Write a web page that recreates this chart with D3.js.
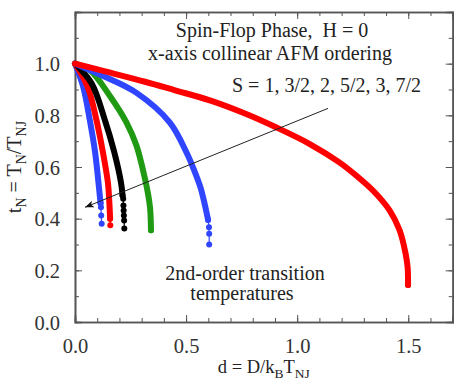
<!DOCTYPE html>
<html>
<head>
<meta charset="utf-8">
<script src="https://cdn.jsdelivr.net/npm/d3@7"></script>
<style>
  body { margin: 0; background: #fff; }
  .axis path, .axis line { stroke: #555; }
  .axis .domain { stroke-width: 1.6; }
</style>
</head>
<body>
<div id="chart"></div>
<script>
// Transition curves t_N(d): [d, t]
// the dense part is drawn as a thick line, the tail as separate dots
const s72Main = [[0, 1], [0.037, 0.91], [0.067, 0.78], [0.09, 0.66], [0.105, 0.545], [0.115, 0.46]];
const s72Tail = [[0.115, 0.46], [0.117, 0.444], [0.118, 0.412], [0.12, 0.38]];
const s3Main = [[0, 1], [0.057, 0.91], [0.097, 0.78], [0.125, 0.66], [0.148, 0.54], [0.155, 0.457], [0.158, 0.40]];
const s3Tail = [[0.158, 0.40], [0.159, 0.375]];
const s52Main = [[0, 1], [0.075, 0.923], [0.135, 0.78], [0.176, 0.66], [0.207, 0.54], [0.214, 0.49]];
const s52Tail = [[0.214, 0.49], [0.217, 0.477], [0.218, 0.451], [0.219, 0.432], [0.22, 0.412], [0.221, 0.393], [0.222, 0.362]];
const s2Main = [[0, 1], [0.067, 0.975], [0.157, 0.875], [0.232, 0.772], [0.277, 0.682], [0.315, 0.554], [0.33, 0.49], [0.338, 0.44], [0.341, 0.39], [0.342, 0.355]];
const s2Tail = [[0.342, 0.355]];
const s32Main = [[0, 1], [0.127, 0.952], [0.277, 0.887], [0.427, 0.772], [0.502, 0.656], [0.535, 0.59], [0.565, 0.52], [0.588, 0.44], [0.599, 0.395]];
const s32Tail = [[0.599, 0.395], [0.603, 0.367], [0.604, 0.342], [0.604, 0.30]];
const s1Main = [[0, 1], [0.127, 0.972], [0.315, 0.93], [0.45, 0.897], [0.607, 0.858], [0.757, 0.81], [0.907, 0.753], [1.057, 0.689], [1.19, 0.618], [1.267, 0.566], [1.341, 0.509], [1.416, 0.432], [1.461, 0.355], [1.488, 0.265], [1.497, 0.213], [1.499, 0.143]];
const s1Tail = [[1.499, 0.143]];

const seriesNames = ["7/2", "3", "5/2", "2", "3/2", "1"];
const seriesMain = [s72Main, s3Main, s52Main, s2Main, s32Main, s1Main];
const seriesTail = [s72Tail, s3Tail, s52Tail, s2Tail, s32Tail, s1Tail];
const seriesColors = ["#2f45ff", "#ff0000", "#000000", "#1f9a12", "#2f45ff", "#ff0000"];

// ticks
const xMajor = [0, 0.5, 1.0, 1.5];
const xMinor = [0, 0.1, 0.2, 0.3, 0.4, 0.5, 0.6, 0.7, 0.8, 0.9, 1.0, 1.1, 1.2, 1.3, 1.4, 1.5, 1.6, 1.7];
const yMajor = [0, 0.2, 0.4, 0.6, 0.8, 1.0];
const yMinor = [0, 0.1, 0.2, 0.3, 0.4, 0.5, 0.6, 0.7, 0.8, 0.9, 1.0, 1.1, 1.2];

// arrow across the curves, in data units
const arrowFrom = [1.139, 0.827];
const arrowTo = [0.045, 0.444];

const serif = 'Liberation Serif';
const width = 457, height = 392;
const margin = { top: 12, right: 4.3, bottom: 70, left: 75 };
const w = width - margin.left - margin.right;
const h = height - margin.top - margin.bottom;

const svg = d3.select('#chart').append('svg')
  .attr('width', width)
  .attr('height', height)
  .attr('font-family', serif);

const chart = svg.append('g')
  .attr('transform', `translate(${margin.left},${margin.top})`);

const x = d3.scaleLinear().domain([0, 1.7]).range([0, w]);
const y = d3.scaleLinear().domain([0, 1.2]).range([h, 0]);

// minor ticks on all four sides, pointing inward
chart.append('g').attr('class', 'axis').attr('transform', `translate(0,${h})`)
  .call(d3.axisBottom(x).tickValues(xMinor).tickSize(-4).tickFormat(''));
chart.append('g').attr('class', 'axis')
  .call(d3.axisTop(x).tickValues(xMinor).tickSize(-4).tickFormat(''));
chart.append('g').attr('class', 'axis')
  .call(d3.axisLeft(y).tickValues(yMinor).tickSize(-4).tickFormat(''));
chart.append('g').attr('class', 'axis').attr('transform', `translate(${w},0)`)
  .call(d3.axisRight(y).tickValues(yMinor).tickSize(-4).tickFormat(''));

// major ticks with labels
const xAxisG = chart.append('g').attr('class', 'axis').attr('transform', `translate(0,${h})`)
  .call(d3.axisBottom(x).tickValues(xMajor).tickSize(-7).tickPadding(13).tickFormat(d3.format('.1f')));
const yAxisG = chart.append('g').attr('class', 'axis')
  .call(d3.axisLeft(y).tickValues(yMajor).tickSize(-7).tickPadding(15).tickFormat(d3.format('.1f')));
chart.append('g').attr('class', 'axis')
  .call(d3.axisTop(x).tickValues(xMajor).tickSize(-7).tickFormat(''));
chart.append('g').attr('class', 'axis').attr('transform', `translate(${w},0)`)
  .call(d3.axisRight(y).tickValues(yMajor).tickSize(-7).tickFormat(''));

chart.selectAll('.axis').attr('font-family', serif);
chart.selectAll('.axis text')
  .attr('font-family', serif)
  .attr('font-size', 20.5)
  .attr('fill', '#333');
xAxisG.selectAll('text').attr('dy', '0.9em');
yAxisG.selectAll('text').attr('dy', '0.35em');

// curves
const line = d3.line().x(d => x(d[0])).y(d => y(d[1])).curve(d3.curveCatmullRom.alpha(0.5));

seriesMain.forEach((pts, i) => {
  chart.append('path')
    .attr('d', line(pts))
    .attr('fill', 'none')
    .attr('stroke', seriesColors[i])
    .attr('stroke-width', 6)
    .attr('stroke-linecap', 'round')
    .attr('stroke-linejoin', 'round');
});

seriesTail.forEach((pts, i) => {
  chart.append('path')
    .attr('d', d3.line().x(d => x(d[0])).y(d => y(d[1]))(pts))
    .attr('fill', 'none')
    .attr('stroke', seriesColors[i])
    .attr('stroke-width', 1.2);
  chart.selectAll(null)
    .data(pts)
    .join('circle')
    .attr('cx', d => x(d[0]))
    .attr('cy', d => y(d[1]))
    .attr('r', 3)
    .attr('fill', seriesColors[i]);
});

// arrow
svg.append('defs').append('marker')
  .attr('id', 'head')
  .attr('viewBox', '-10 -5 12 10')
  .attr('refX', 0).attr('refY', 0)
  .attr('markerWidth', 12).attr('markerHeight', 10)
  .attr('markerUnits', 'userSpaceOnUse')
  .attr('orient', 'auto')
  .append('path')
  .attr('d', 'M-9,-3.5 L0,0 L-9,3.5 L-6.5,0 Z')
  .attr('fill', '#111');

chart.append('line')
  .attr('x1', x(arrowFrom[0])).attr('y1', y(arrowFrom[1]))
  .attr('x2', x(arrowTo[0])).attr('y2', y(arrowTo[1]))
  .attr('stroke', '#222')
  .attr('stroke-width', 1)
  .attr('marker-end', 'url(#head)');

// annotations
const note = (txt, px, py, anchor) => svg.append('text')
  .attr('x', px).attr('y', py)
  .attr('text-anchor', anchor)
  .attr('font-family', serif)
  .attr('font-size', 20)
  .attr('fill', '#222')
  .text(txt);

note('Spin-Flop Phase,\u00a0 H = 0', 272, 37, 'middle');
note('x-axis collinear AFM ordering', 270, 60, 'middle');
note('S = 1, 3/2, 2, 5/2, 3, 7/2', 232, 92, 'start');
note('2nd-order transition', 245, 280, 'middle');
note('temperatures', 242, 300, 'middle');

// axis titles
const xt = svg.append('text')
  .attr('x', margin.left + w / 2).attr('y', 373)
  .attr('text-anchor', 'middle')
  .attr('font-family', serif)
  .attr('fill', '#222')
  .attr('font-size', 18.5);
xt.append('tspan').text('d = D/k');
xt.append('tspan').attr('dy', 5).attr('font-size', 13.5).text('B');
xt.append('tspan').attr('dy', -5).text('T');
xt.append('tspan').attr('dy', 5).attr('font-size', 13.5).text('NJ');

const yt = svg.append('text')
  .attr('transform', `translate(21,${margin.top + h / 2}) rotate(-90)`)
  .attr('text-anchor', 'middle')
  .attr('font-family', serif)
  .attr('fill', '#222')
  .attr('font-size', 20);
yt.append('tspan').text('t');
yt.append('tspan').attr('dy', 5).attr('font-size', 14).text('N');
yt.append('tspan').attr('dy', -5).text(' = T');
yt.append('tspan').attr('dy', 5).attr('font-size', 14).text('N');
yt.append('tspan').attr('dy', -5).text('/T');
yt.append('tspan').attr('dy', 5).attr('font-size', 14).text('NJ');
</script>
</body>
</html>
